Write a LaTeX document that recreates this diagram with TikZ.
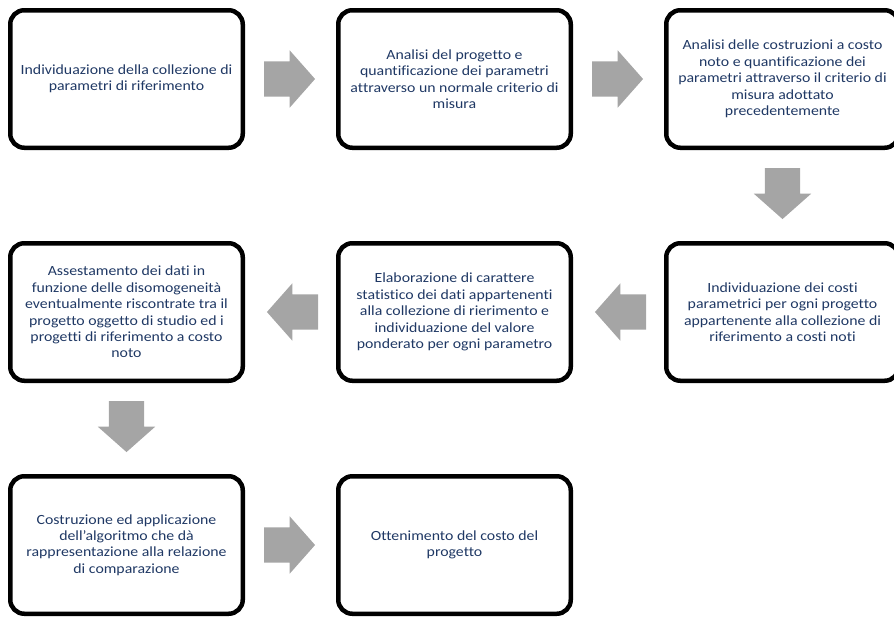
\documentclass[tikz,border=0pt]{standalone}
\usepackage{fontspec}
\setmainfont{Carlito}[FakeStretch=1.13, Ligatures=NoCommon]
\usepackage{xcolor}
\usepackage{tikz}
\usetikzlibrary{positioning, shapes.arrows}

\definecolor{textnavy}{RGB}{31,56,100}
\definecolor{arrowgrey}{RGB}{165,165,165}

\begin{document}
\begin{tikzpicture}[
        node distance=91pt and 91pt,
        box/.style={rectangle, draw, line width=4.5pt, rounded corners=14pt, align=center,
            minimum width=232.5pt, minimum height=137.5pt, text=textnavy,
            font=\fontsize{14}{16.4}\selectfont},
        blockarrow/.style={single arrow, fill=arrowgrey, draw=none, inner sep=17.5pt,
            outer sep=0pt, minimum height=50pt, single arrow head extend=11pt,
            single arrow tip angle=97}
    ]

    \clip (0,0) rectangle (894pt,-619pt);

    % first row
    \node[box] (collezione) at (126.5pt,-79pt) {Individuazione della collezione di\\
        parametri di riferimento};

    \node[box, right=of collezione] (progetto) {Analisi del progetto e\\
        quantificazione dei parametri\\
        attraverso un normale criterio di\\
        misura};

    \node[box, right=of progetto] (costruzioni) {Analisi delle costruzioni a costo\\
        noto e quantificazione dei\\
        parametri attraverso il criterio di\\
        misura adottato\\
        precedentemente};

    % second row, right to left
    \node[box, below=of costruzioni] (costi) {Individuazione dei costi\\
        parametrici per ogni progetto\\
        appartenente alla collezione di\\
        riferimento a costi noti};

    \node[box, left=of costi] (statistica) {Elaborazione di carattere\\
        statistico dei dati appartenenti\\
        alla collezione di rierimento e\\
        individuazione del valore\\
        ponderato per ogni parametro};

    \node[box, left=of statistica] (assestamento) {Assestamento dei dati in\\
        funzione delle disomogeneità\\
        eventualmente riscontrate tra il\\
        progetto oggetto di studio ed i\\
        progetti di riferimento a costo\\
        noto};

    % third row
    \node[box, below=of assestamento] (algoritmo) {Costruzione ed applicazione\\
        dell'algoritmo che dà\\
        rappresentazione alla relazione\\
        di comparazione};

    \node[box, right=of algoritmo] (risultato) {Ottenimento del costo del\\
        progetto};

    % block arrows between the steps
    \node[blockarrow, right=19pt of collezione, anchor=tail] (a1) {};
    \node[blockarrow, right=19pt of progetto, anchor=tail] (a2) {};
    \node[blockarrow, shape border rotate=270, below=18pt of costruzioni, anchor=tail] (a3) {};
    \node[blockarrow, shape border rotate=180, left=18pt of costi, anchor=tail] (a4) {};
    \node[blockarrow, shape border rotate=180, left=18pt of statistica, anchor=tail] (a5) {};
    \node[blockarrow, shape border rotate=270, below=18pt of assestamento, anchor=tail] (a6) {};
    \node[blockarrow, right=19pt of algoritmo, anchor=tail] (a7) {};

\end{tikzpicture}
\end{document}
